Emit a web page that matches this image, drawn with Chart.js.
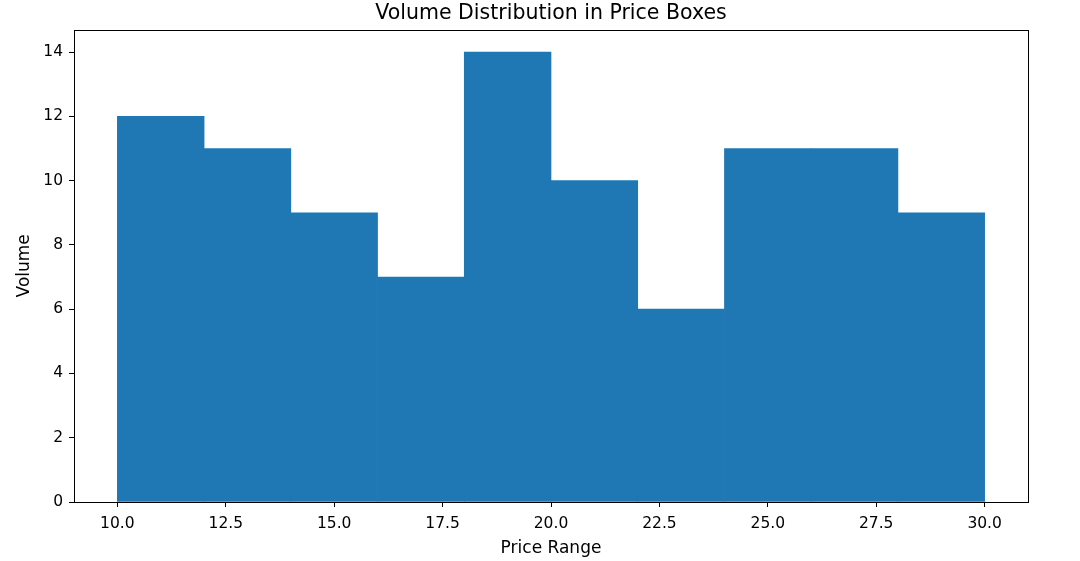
<!DOCTYPE html>
<html>
<head>
<meta charset="utf-8">
<script src="https://cdn.jsdelivr.net/npm/chart.js@4.4.1/dist/chart.umd.min.js"></script>
<style>
    html, body { margin: 0; padding: 0; background: #fff; }
    #wrap { width: 1080px; height: 561px; }
</style>
</head>
<body>
<div id="wrap"><canvas id="volumeChart"></canvas></div>
<script>
// bin centres (width 2, from 10 to 30) and volume per bin
const binCenters = [11, 13, 15, 17, 19, 21, 23, 25, 27, 29];
const volumes = [12, 11, 9, 7, 14, 10, 6, 11, 11, 9];
const xTicks = [10, 12.5, 15, 17.5, 20, 22.5, 25, 27.5, 30];
const yTicks = [0, 2, 4, 6, 8, 10, 12, 14];

const fontFamily = '"DejaVu Sans", sans-serif';

// draws the full box round the plot like matplotlib
const frame = {
    id: 'frame',
    afterDraw(chart) {
        const a = chart.chartArea;
        const ctx = chart.ctx;
        ctx.save();
        ctx.strokeStyle = '#000';
        ctx.lineWidth = 1;
        ctx.strokeRect(Math.round(a.left) + 0.5, Math.round(a.top) + 0.5,
            Math.round(a.right - a.left), Math.round(a.bottom - a.top));
        ctx.restore();
    }
};

document.addEventListener('DOMContentLoaded', function () {
    const el = document.getElementById('volumeChart');

    new Chart(el, {
        type: 'bar',
        data: {
            datasets: [{
                label: 'Volume',
                data: binCenters.map((c, i) => ({ x: c, y: volumes[i] })),
                backgroundColor: '#1f77b4',
                borderWidth: 0,
                barPercentage: 1,
                categoryPercentage: 1
            }]
        },
        options: {
            responsive: true,
            maintainAspectRatio: false,
            animation: false,
            layout: { padding: { left: 0, right: 52, top: 0, bottom: 0 } },
            plugins: {
                legend: { display: false },
                tooltip: { enabled: false },
                title: {
                    display: true,
                    fullSize: false,
                    text: 'Volume Distribution in Price Boxes',
                    color: '#000',
                    font: { family: fontFamily, size: 20.5, weight: 'normal' },
                    padding: { top: 1, bottom: 4 }
                }
            },
            scales: {
                x: {
                    type: 'linear',
                    min: 9,
                    max: 31,
                    offset: false,
                    afterBuildTicks: s => { s.ticks = xTicks.map(v => ({ value: v })); },
                    afterFit: s => { s.height = 59; },
                    ticks: {
                        color: '#000',
                        font: { family: fontFamily, size: 15.5 },
                        padding: 8,
                        maxRotation: 0,
                        callback: v => Number(v).toFixed(1)
                    },
                    grid: { offset: false, drawOnChartArea: false, color: '#000', tickLength: 5 },
                    border: { display: false },
                    title: {
                        display: true,
                        text: 'Price Range',
                        color: '#000',
                        font: { family: fontFamily, size: 17 },
                        padding: { top: 4, bottom: 2 }
                    }
                },
                y: {
                    min: 0,
                    max: 14.7,
                    afterBuildTicks: s => { s.ticks = yTicks.map(v => ({ value: v })); },
                    afterFit: s => { s.width = 74; },
                    ticks: {
                        color: '#000',
                        font: { family: fontFamily, size: 15.5 },
                        padding: 6
                    },
                    grid: { offset: false, drawOnChartArea: false, color: '#000', tickLength: 5 },
                    border: { display: false },
                    title: {
                        display: true,
                        text: 'Volume',
                        color: '#000',
                        font: { family: fontFamily, size: 17 },
                        padding: { top: 14, bottom: 4 }
                    }
                }
            }
        },
        plugins: [frame]
    });
});
</script>
</body>
</html>
